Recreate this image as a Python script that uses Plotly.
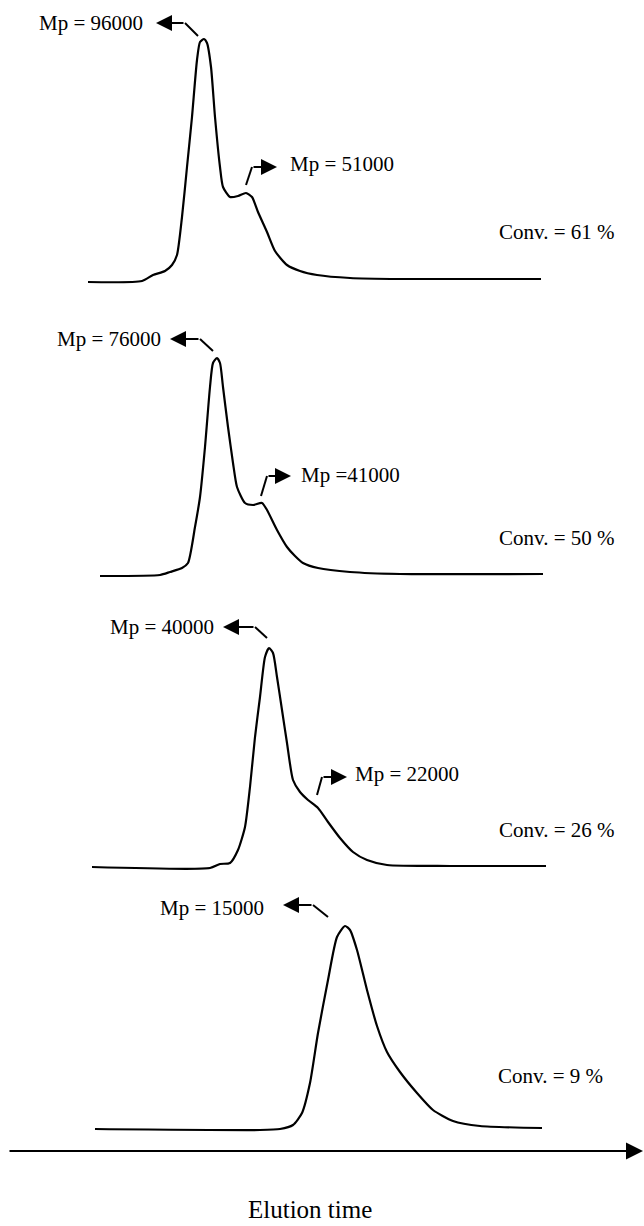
import plotly.graph_objects as go

W, H = 644, 1226

# Elution time (arbitrary units) and detector signal (arbitrary units)
t1 = [88, 142, 153, 165, 172, 177, 182, 187, 192, 197, 200, 204, 207, 211, 215, 220, 223, 230, 238, 246, 252, 258, 267, 275, 287, 300, 317, 350, 400, 541]
s1 = [0, 1, 7, 11, 17, 27, 65, 115, 165, 222, 240, 243, 239, 215, 165, 115, 95, 85, 86, 89, 85, 70, 50, 31, 17, 11, 7, 4, 3, 3]

t2 = [100, 160, 170, 182, 188, 195, 200, 205, 210, 213, 217, 220, 223, 228, 233, 237, 245, 253, 262, 267, 277, 287, 295, 303, 318, 350, 400, 543]
s2 = [0, 1, 4, 8, 13, 49, 79, 129, 189, 213, 218, 213, 189, 149, 113, 89, 73, 71, 73, 66, 46, 29, 20, 13, 8, 4, 2, 2]

t3 = [92, 210, 220, 230, 238, 245, 250, 255, 260, 265, 269, 273, 277, 282, 287, 293, 300, 308, 318, 328, 340, 353, 367, 387, 450, 546]
s3 = [1, 0, 4, 5, 18, 41, 81, 131, 171, 211, 220, 215, 191, 158, 125, 88, 76, 68, 60, 46, 30, 16, 8, 3, 2, 2]

t4 = [95, 260, 280, 293, 302, 310, 318, 328, 337, 345, 350, 357, 367, 377, 387, 400, 417, 433, 453, 480, 542]
s4 = [1, 0, 1, 5, 17, 47, 97, 150, 193, 204, 200, 180, 140, 104, 78, 58, 37, 20, 9, 4, 2]

conversions = ["Conv. = 61 %", "Conv. = 50 %", "Conv. = 26 %", "Conv. = 9 %"]
mp_main = ["Mp = 96000", "Mp = 76000", "Mp = 40000", "Mp = 15000"]
mp_shoulder = ["Mp = 51000", "Mp =41000", "Mp = 22000", None]
axis_label = "Elution time"

series = [(t1, s1), (t2, s2), (t3, s3), (t4, s4)]

# layout (pixel positions of each panel's baseline)
baselines = [282, 576, 868, 1130]
RLO, RHI = -10, 250


def py(y):
    return 1 - y / H


FONT = dict(family="Liberation Serif, Times New Roman, serif", size=21, color="black")

fig = go.Figure()
layout = dict(
    width=W, height=H, margin=dict(l=0, r=0, t=0, b=0),
    paper_bgcolor="white", plot_bgcolor="white", showlegend=False,
    xaxis=dict(range=[0, W], visible=False, domain=[0, 1]),
)
for i, ((t, s), yb) in enumerate(zip(series, baselines)):
    name = "y" if i == 0 else f"y{i+1}"
    key = "yaxis" if i == 0 else f"yaxis{i+1}"
    layout[key] = dict(range=[RLO, RHI], visible=False,
                       domain=[py(yb - RLO), py(yb - RHI)], anchor="x")
    fig.add_trace(go.Scatter(x=t, y=s, xaxis="x", yaxis=name, mode="lines",
                             line=dict(color="black", width=2.2, shape="spline", smoothing=0.6),
                             hoverinfo="skip"))
fig.update_layout(**layout)

annotations = []
shapes = []


def text(txt, x, y, size=21):
    annotations.append(dict(text=txt, x=x / W, y=py(y), xref="paper", yref="paper",
                            showarrow=False, xanchor="center", yanchor="middle",
                            font=dict(FONT, size=size)))


def bent_arrow(p0, p1, tip):
    # p0 -> p1 plain segment, p1 -> tip with arrowhead
    shapes.append(dict(type="line", xref="paper", yref="paper",
                       x0=p0[0] / W, y0=py(p0[1]), x1=p1[0] / W, y1=py(p1[1]),
                       line=dict(color="black", width=2)))
    annotations.append(dict(text="", x=tip[0] / W, y=py(tip[1]), xref="paper", yref="paper",
                            ax=p1[0] - tip[0], ay=p1[1] - tip[1], showarrow=True,
                            arrowhead=2, arrowsize=1.6, arrowwidth=2, arrowcolor="black",
                            standoff=0, startstandoff=0))


# panel 1
text(mp_main[0], 91, 23)
bent_arrow((198, 36), (185, 23), (156, 23))
text(mp_shoulder[0], 342, 164)
bent_arrow((246, 185), (252, 167), (277, 167))
text(conversions[0], 556, 232)
# panel 2
text(mp_main[1], 109, 339)
bent_arrow((213, 351), (200, 339), (170, 339))
text(mp_shoulder[1], 350, 475)
bent_arrow((261, 496), (267, 476), (291, 476))
text(conversions[1], 556, 538)
# panel 3
text(mp_main[2], 162, 627)
bent_arrow((267, 638), (255, 627), (223, 627))
text(mp_shoulder[2], 407, 774)
bent_arrow((317, 795), (322, 777), (347, 777))
text(conversions[2], 556, 830)
# panel 4
text(mp_main[3], 212, 908)
bent_arrow((328, 917), (313, 905), (283, 905))
text(conversions[3], 550, 1076)

# elution-time axis arrow
annotations.append(dict(text="", x=1.0, y=py(1151), xref="paper", yref="paper",
                        ax=-(W - 8), ay=0, showarrow=True, arrowhead=2, arrowsize=1.7,
                        arrowwidth=2, arrowcolor="black", standoff=0, startstandoff=0))
text(axis_label, 310, 1209, size=25)

fig.update_layout(annotations=annotations, shapes=shapes)
fig.write_html("out.html")
